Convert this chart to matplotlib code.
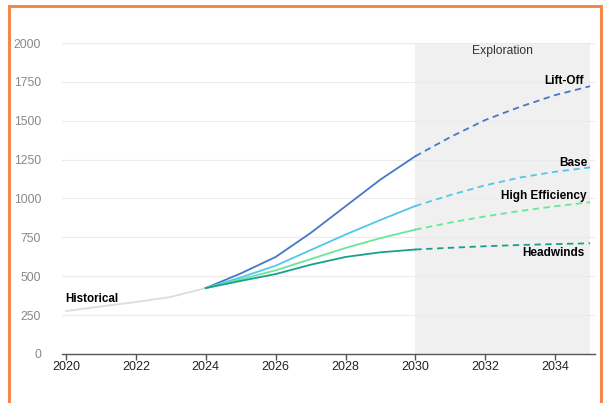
import matplotlib.pyplot as plt
from matplotlib.patches import Rectangle

plt.rcParams['font.family'] = ['Liberation Sans', 'DejaVu Sans']

# historical demand
hist_years = [2020, 2021, 2022, 2023, 2024]
hist_vals = [276, 306, 334, 367, 424]

# projections: solid to 2030, dashed after
proj_years = [2024, 2025, 2026, 2027, 2028, 2029, 2030]
ext_years = [2030, 2031, 2032, 2033, 2034, 2035]

scenarios = ['Lift-Off', 'Base', 'High Efficiency', 'Headwinds']
proj_vals = {
    'Lift-Off': [424, 518, 624, 778, 950, 1122, 1272],
    'Base': [424, 492, 568, 668, 768, 862, 952],
    'High Efficiency': [424, 480, 538, 610, 682, 745, 800],
    'Headwinds': [424, 470, 514, 574, 624, 654, 672],
}
ext_vals = {
    'Lift-Off': [1272, 1395, 1505, 1590, 1665, 1722],
    'Base': [952, 1022, 1085, 1135, 1172, 1200],
    'High Efficiency': [800, 845, 885, 920, 950, 976],
    'Headwinds': [672, 683, 693, 701, 707, 712],
}
colors = {
    'Lift-Off': '#4677c9',
    'Base': '#52c6ec',
    'High Efficiency': '#6be597',
    'Headwinds': '#17a08a',
}
label_pos = {
    'Lift-Off': (2034.83, 1756),
    'Base': (2034.92, 1228),
    'High Efficiency': (2034.89, 1016),
    'Headwinds': (2034.83, 652),
}

fig = plt.figure(figsize=(6.03, 4.03), dpi=100)
ax = fig.add_axes([0.1028, 0.1216, 0.8839, 0.7717])

# orange frame around the figure
fig.patches.append(Rectangle((9 / 603, -0.05), 592 / 603, 1.05 - 6 / 403,
                             transform=fig.transFigure, fill=False,
                             edgecolor='#f4874b', linewidth=2.2))

ax.axvspan(2030, 2035, ymin=0, ymax=1, color='#f0f0f0', zorder=0, lw=0)
ax.text(2032.5, 1949, 'Exploration', ha='center', va='center', fontsize=8.7, color='#333333')

for y in [250, 500, 750, 1000, 1250, 1500, 1750, 2000]:
    ax.axhline(y, color='#ebebeb', lw=0.8, zorder=1)

ax.plot(hist_years, hist_vals, color='#dddddd', lw=1.3, zorder=2)
ax.text(2019.97, 354, 'Historical', fontsize=8.4, fontweight='bold', va='center', ha='left')

for s in scenarios:
    ax.plot(proj_years, proj_vals[s], color=colors[s], lw=1.3, zorder=3)
    ax.plot(ext_years, ext_vals[s], color=colors[s], lw=1.3, ls=(0, (3.5, 2.5)), zorder=3)
    x, y = label_pos[s]
    ax.text(x, y, s, fontsize=8.5, fontweight='bold', ha='right', va='center')

ax.set_xlim(2019.885, 2035.14)
ax.set_ylim(0, 2000)
ax.set_xticks(range(2020, 2035, 2))
ax.set_yticks(range(0, 2001, 250))

for side in ['top', 'right', 'left']:
    ax.spines[side].set_visible(False)
ax.spines['bottom'].set_color('#555555')
ax.spines['bottom'].set_linewidth(1.0)

ax.tick_params(axis='x', length=4, width=1.0, color='#555555', labelsize=9,
               labelcolor='#222222', pad=1)
ax.tick_params(axis='y', length=0, labelsize=8.8, labelcolor='#888888', pad=15)

fig.savefig('out.png', dpi=100)
